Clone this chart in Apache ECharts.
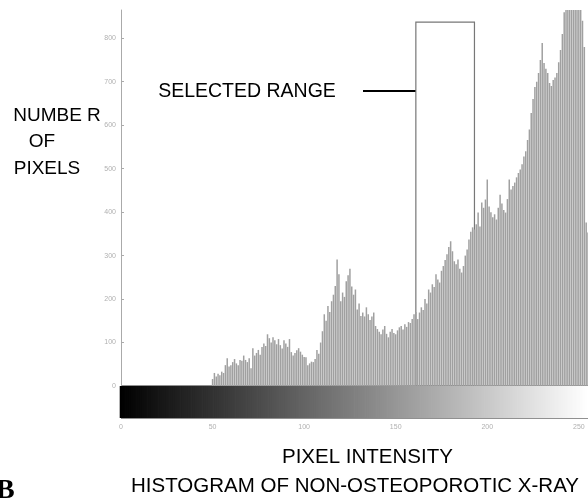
<!DOCTYPE html>
<html><head><meta charset="utf-8">
<script src="https://cdn.jsdelivr.net/npm/echarts@6/dist/echarts.min.js"></script>
<style>html,body{margin:0;padding:0;background:#fff;overflow:hidden}#c{width:588px;height:501px}</style>
</head><body><div id="c"></div>
<script>
// Pixel intensity levels start at 50; counts for levels 50..255
const firstLevel = 50;
const pixelCounts = [
  16, 30, 22, 28, 25, 33, 30, 48, 64, 45,     // 50-59
  48, 55, 62, 52, 48, 60, 58, 70, 60, 55,     // 60-69
  64, 41, 87, 70, 76, 83, 72, 90, 98, 92,     // 70-79
  119, 110, 100, 112, 105, 96, 108, 94, 86, 105, // 80-89
  98, 90, 108, 78, 70, 76, 82, 87, 79, 72,    // 90-99
  67, 66, 48, 52, 56, 55, 62, 83, 74, 100,    // 100-109
  126, 165, 150, 184, 170, 195, 210, 230, 291, 257, // 110-119
  195, 215, 205, 241, 255, 270, 229, 210, 222, 176, // 120-129
  190, 161, 169, 160, 181, 165, 152, 160, 169, 138, // 130-139
  131, 125, 119, 130, 138, 120, 112, 125, 131, 122, // 140-149
  119, 128, 135, 138, 130, 142, 136, 147, 145, 154, // 150-159
  165, 170, 154, 169, 181, 175, 200, 190, 222, 215, // 160-169
  234, 228, 257, 245, 238, 265, 276, 290, 303, 320, // 170-179
  333, 310, 287, 280, 291, 270, 261, 276, 300, 314, // 180-189
  337, 355, 365, 360, 372, 399, 367, 422, 410, 429, // 190-199
  475, 413, 400, 388, 395, 383, 410, 440, 420, 405, // 200-209
  399, 430, 475, 452, 460, 468, 480, 490, 498, 510, // 210-219
  528, 540, 566, 590, 628, 660, 688, 700, 720, 750, // 220-229
  789, 743, 730, 720, 697, 690, 704, 710, 720, 745, // 230-239
  773, 810, 860, 900, 900, 900, 900, 900, 900, 900, // 240-249
  900, 900, 840, 780, 376, 353                      // 250-255
];
const yTicks = [0, 100, 200, 300, 400, 500, 600, 700, 800];
const xTicks = [0, 50, 100, 150, 200, 250];
const selectedRange = [161, 193];
const selectedTop = 837;

const levels = [];
for (let l = 0; l <= 255; l++) levels.push(l);

const chart = echarts.init(document.getElementById('c'), null, {renderer: 'canvas'});
const FONT = 'Liberation Sans, Arial, sans-serif';
const tickLabelStyle = {fontSize: 7, color: '#b0b0b0', fontFamily: FONT};

chart.setOption({
  backgroundColor: '#fff',
  animation: false,
  grid: [
    {left: 121, right: 0, top: 10, bottom: 115},
    {left: 121, right: 0, top: 386, height: 32, show: true, borderColor: '#222', borderWidth: 1, backgroundColor: 'transparent'}
  ],
  xAxis: [
    {gridIndex: 0, type: 'value', min: 0, max: 255, show: false, splitLine: {show: false}},
    {gridIndex: 1, type: 'value', min: 0, max: 255, interval: 50,
     axisLine: {show: false},
     axisTick: {show: true, inside: true, length: 3, lineStyle: {color: '#444'}, customValues: xTicks},
     axisLabel: Object.assign({margin: 6, customValues: xTicks}, tickLabelStyle),
     splitLine: {show: false}}
  ],
  yAxis: [
    {gridIndex: 0, type: 'value', min: 0, max: 865,
     axisLine: {show: true, lineStyle: {color: '#aaa', width: 1}},
     axisTick: {show: true, inside: true, length: 3, lineStyle: {color: '#aaa'}, customValues: yTicks},
     axisLabel: Object.assign({margin: 5, customValues: yTicks}, tickLabelStyle),
     splitLine: {show: false}},
    {gridIndex: 1, type: 'value', min: 0, max: 1, show: false}
  ],
  series: [
    {
      type: 'bar', xAxisIndex: 0, yAxisIndex: 0, clip: true,
      barWidth: 1.5,
      itemStyle: {color: '#a0a0a0'},
      data: pixelCounts.map((v, i) => [firstLevel + i, v]),
      markArea: {
        silent: true,
        itemStyle: {color: 'rgba(0,0,0,0)', borderColor: '#777', borderWidth: 1.2},
        data: [[{coord: [selectedRange[0], 0]}, {coord: [selectedRange[1], selectedTop]}]]
      }
    },
    {
      type: 'bar', xAxisIndex: 1, yAxisIndex: 1, clip: true, silent: true,
      barWidth: 2.6,
      data: levels.map(l => ({value: [l, 1], itemStyle: {color: 'rgb(' + l + ',' + l + ',' + l + ')'}}))
    }
  ],
  graphic: [
    {type: 'text', style: {text: 'NUMBE R', x: 57, y: 116, textAlign: 'center', textVerticalAlign: 'middle', font: '19px ' + FONT, fill: '#000'}},
    {type: 'text', style: {text: 'OF', x: 42, y: 142, textAlign: 'center', textVerticalAlign: 'middle', font: '19px ' + FONT, fill: '#000'}},
    {type: 'text', style: {text: 'PIXELS', x: 47, y: 169, textAlign: 'center', textVerticalAlign: 'middle', font: '19px ' + FONT, fill: '#000'}},
    {type: 'text', style: {text: 'SELECTED RANGE', x: 247, y: 92, textAlign: 'center', textVerticalAlign: 'middle', font: '19.5px ' + FONT, fill: '#000'}},
    {type: 'line', shape: {x1: 363, y1: 91, x2: 416, y2: 91}, style: {stroke: '#000', lineWidth: 2}},
    {type: 'text', style: {text: 'PIXEL INTENSITY', x: 282, y: 457, textAlign: 'left', textVerticalAlign: 'middle', font: '20.5px ' + FONT, fill: '#000'}},
    {type: 'text', style: {text: 'HISTOGRAM OF NON-OSTEOPOROTIC X-RAY', x: 131, y: 486, textAlign: 'left', textVerticalAlign: 'middle', font: '20.5px ' + FONT, fill: '#000'}},
    {type: 'text', style: {text: 'B', x: -4, y: 491, textAlign: 'left', textVerticalAlign: 'middle', font: 'bold 28px "Liberation Serif", "DejaVu Serif", serif', fill: '#000'}}
  ]
});
</script>
</body></html>
